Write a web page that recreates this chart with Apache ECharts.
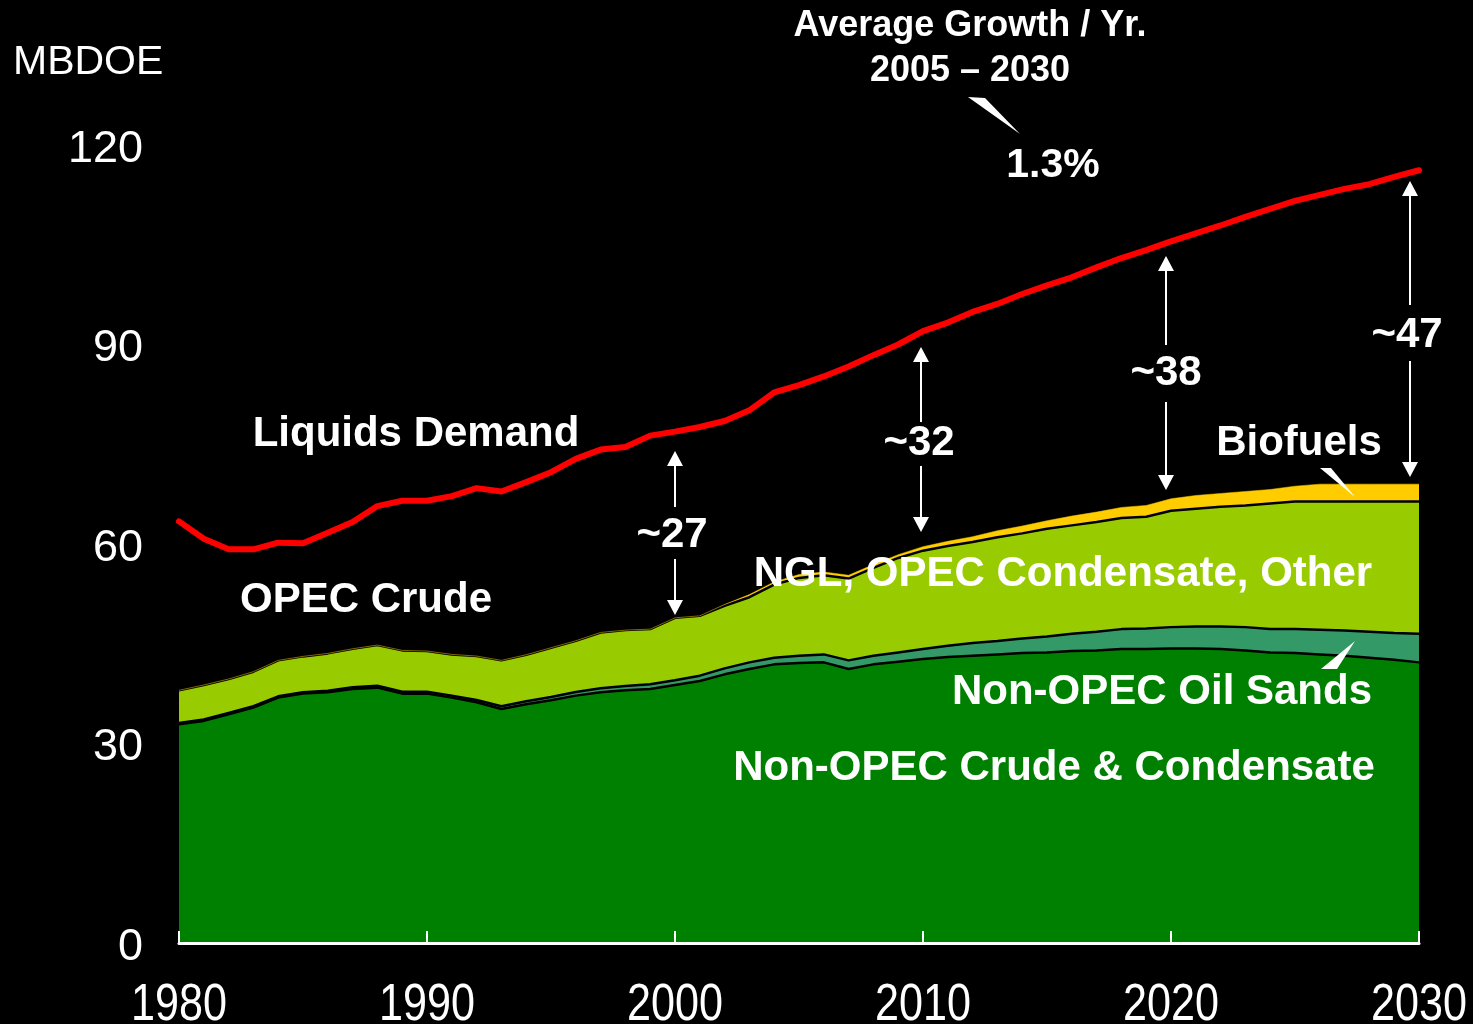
<!DOCTYPE html>
<html><head><meta charset="utf-8">
<script src="https://cdn.jsdelivr.net/npm/echarts@6/dist/echarts.min.js"></script>
<style>html,body{margin:0;padding:0;background:#000;}#c{width:1473px;height:1024px;}</style>
</head><body><div id="c"></div>
<script>
const years = ['1980','1981','1982','1983','1984','1985','1986','1987','1988','1989',
  '1990','1991','1992','1993','1994','1995','1996','1997','1998','1999',
  '2000','2001','2002','2003','2004','2005','2006','2007','2008','2009',
  '2010','2011','2012','2013','2014','2015','2016','2017','2018','2019',
  '2020','2021','2022','2023','2024','2025','2026','2027','2028','2029','2030'];
const liquidsDemand = [63.4,60.8,59.2,59.2,60.2,60.1,61.7,63.3,65.7,66.5,
  66.5,67.2,68.4,67.9,69.3,70.8,72.8,74.2,74.6,76.3,
  76.9,77.6,78.5,80.1,82.8,83.9,85.2,86.7,88.4,90.0,
  92.0,93.3,94.9,96.1,97.6,98.9,100.1,101.6,103.0,104.2,
  105.5,106.7,107.9,109.2,110.4,111.6,112.5,113.4,114.1,115.2,116.2];
const nonOpecCrude = [32.9,33.4,34.4,35.4,36.9,37.5,37.7,38.2,38.4,37.5,
  37.5,36.9,36.2,35.2,35.9,36.5,37.2,37.7,38.0,38.2,
  38.8,39.4,40.4,41.2,41.9,42.1,42.2,41.2,41.9,42.3,
  42.7,43.0,43.2,43.4,43.6,43.7,43.9,44.0,44.2,44.2,
  44.3,44.3,44.2,44.0,43.7,43.6,43.4,43.2,42.9,42.6,42.2];
const oilSands = [0.2,0.2,0.2,0.2,0.2,0.2,0.25,0.25,0.3,0.3,
  0.3,0.3,0.35,0.4,0.45,0.5,0.55,0.6,0.65,0.7,
  0.7,0.8,0.9,1.0,1.0,1.1,1.2,1.3,1.3,1.4,
  1.5,1.7,1.9,2.0,2.2,2.4,2.6,2.8,3.0,3.1,
  3.2,3.3,3.4,3.5,3.5,3.6,3.7,3.8,3.9,4.0,4.3];
const nglOther = [4.9,5.2,5.1,5.2,5.4,5.4,5.6,5.8,6.1,6.2,
  6.1,6.2,6.6,6.9,7.0,7.4,7.7,8.4,8.4,8.3,
  9.4,9.0,9.4,9.8,11.0,11.7,11.9,12.3,13.2,14.2,
  14.8,15.0,15.2,15.6,15.8,16.2,16.3,16.5,16.7,16.8,
  17.5,17.7,18.0,18.3,18.9,19.2,19.3,19.4,19.6,19.8,19.9];
const biofuels = [0,0,0,0,0,0,0,0,0,0,
  0,0,0,0,0,0,0,0,0,0,
  0,0,0.2,0.4,0.4,0.5,0.5,0.5,0.5,0.5,
  0.6,0.7,0.8,1.0,1.1,1.2,1.4,1.5,1.6,1.7,
  1.8,2.0,2.0,2.1,2.1,2.3,2.6,2.6,2.6,2.6,2.6];
const xTicks = ['1980','1990','2000','2010','2020','2030'];
const yTicks = [0,30,60,90,120];

const F = '"Liberation Sans", Arial, sans-serif';

function txt(text, x, y, size, bold, align){
  return {type:'text', x:x, y:y, z:100,
    style:{text:text, fill:'#fff', fontSize:size, fontWeight:bold?'bold':'normal',
      fontFamily:F, align:align||'center', verticalAlign:'middle'}};
}
function arrowPart(x, tip, end, up){
  const d = up ? 1 : -1;
  return [
    {type:'line', z:100, shape:{x1:x, y1:tip + d*14, x2:x, y2:end}, style:{stroke:'#fff', lineWidth:2}},
    {type:'polygon', z:100, shape:{points:[[x-8, tip + d*15],[x+8, tip + d*15],[x, tip]]}, style:{fill:'#fff'}}
  ];
}
function dblArrow(x, upTip, upEnd, downStart, downTip){
  return arrowPart(x, upTip, upEnd, true).concat(arrowPart(x, downTip, downStart, false));
}

const graphics = [
  {type:'text', x:13, y:63, z:100, style:{text:'MBDOE', fill:'#fff', fontSize:41, fontFamily:F, align:'left', verticalAlign:'middle'}},
  txt('Average Growth / Yr.', 970, 26, 36, true),
  txt('2005 – 2030', 970, 71, 36, true),
  txt('1.3%', 1053, 166, 41, true),
  {type:'polygon', z:100, shape:{points:[[968,97],[985,98],[1020,134]]}, style:{fill:'#fff'}},
  txt('Liquids Demand', 416, 434, 42, true),
  txt('OPEC Crude', 366, 600, 42, true),
  txt('~27', 672, 535, 42, true),
  txt('~32', 919, 443, 42, true),
  txt('~38', 1166, 373, 42, true),
  txt('~47', 1407, 335, 42, true),
  txt('Biofuels', 1299, 443, 42, true),
  {type:'polygon', z:100, shape:{points:[[1320,468],[1331,468],[1355,497]]}, style:{fill:'#fff'}},
  txt('NGL, OPEC Condensate, Other', 1063, 574, 42, true),
  txt('Non-OPEC Oil Sands', 1162, 692, 42, true),
  {type:'polygon', z:100, shape:{points:[[1355,641],[1321,669],[1337,669]]}, style:{fill:'#fff'}},
  txt('Non-OPEC Crude & Condensate', 1054, 768, 42, true)
].concat(dblArrow(675, 451, 507, 559, 615))
 .concat(dblArrow(921, 347, 422, 466, 532))
 .concat(dblArrow(1166, 256, 345, 402, 490))
 .concat(dblArrow(1410, 181, 305, 361, 477));

const chart = echarts.init(document.getElementById('c'), null, {renderer:'canvas'});
const isTick = (i) => xTicks.indexOf(years[i]) >= 0;
chart.setOption({
  backgroundColor:'#000',
  animation:false,
  grid:{left:179, right:54, top:145, bottom:81, containLabel:false, outerBoundsMode:'none'},
  xAxis:{type:'category', data:years, boundaryGap:false, z:10,
    axisLine:{show:true, lineStyle:{color:'#fff', width:3}},
    axisTick:{show:true, inside:true, length:12, interval:(i)=>isTick(i), lineStyle:{color:'#fff', width:2}},
    splitLine:{show:false},
    axisLabel:{show:false}},
  yAxis:{type:'value', min:0, max:120, interval:30,
    axisLine:{show:false}, axisTick:{show:false}, splitLine:{show:false},
    axisLabel:{color:'#fff', fontFamily:F, fontSize:45, margin:36,
      formatter:v=> yTicks.indexOf(v)>=0 ? '{a|' + v + '}' : '',
      rich:{a:{color:'#fff', fontFamily:F, fontSize:45, padding:[9,0,0,0]}}}},
  series:[
    {name:'Non-OPEC Crude & Condensate', type:'line', stack:'s', data:nonOpecCrude, symbol:'none',
      lineStyle:{color:'#000', width:2.5}, areaStyle:{color:'#008000', opacity:1}},
    {name:'Non-OPEC Oil Sands', type:'line', stack:'s', data:oilSands, symbol:'none',
      lineStyle:{color:'#000', width:2.5}, areaStyle:{color:'#339966', opacity:1}},
    {name:'NGL, OPEC Condensate, Other', type:'line', stack:'s', data:nglOther, symbol:'none',
      lineStyle:{color:'#000', width:2.5}, areaStyle:{color:'#99cc00', opacity:1}},
    {name:'Biofuels', type:'line', stack:'s', data:biofuels, symbol:'none',
      lineStyle:{color:'#ffcc00', width:0.5}, areaStyle:{color:'#ffcc00', opacity:1}},
    {name:'Liquids Demand', type:'line', data:liquidsDemand, symbol:'none',
      lineStyle:{color:'#ff0000', width:6, join:'round', cap:'round'}, z:5}
  ]
});
// x tick labels: condensed (narrow) rendering, positioned through the axis scale
const labelGraphics = xTicks.map(t => {
  const p = chart.convertToPixel({xAxisIndex:0}, t);
  return {type:'text', x:p, y:1006, z:100, scaleX:0.83,
    style:{text:t, fill:'#fff', fontSize:52, fontFamily:F, align:'center', verticalAlign:'middle'}};
});
chart.setOption({graphic: graphics.concat(labelGraphics)});
</script></body></html>
